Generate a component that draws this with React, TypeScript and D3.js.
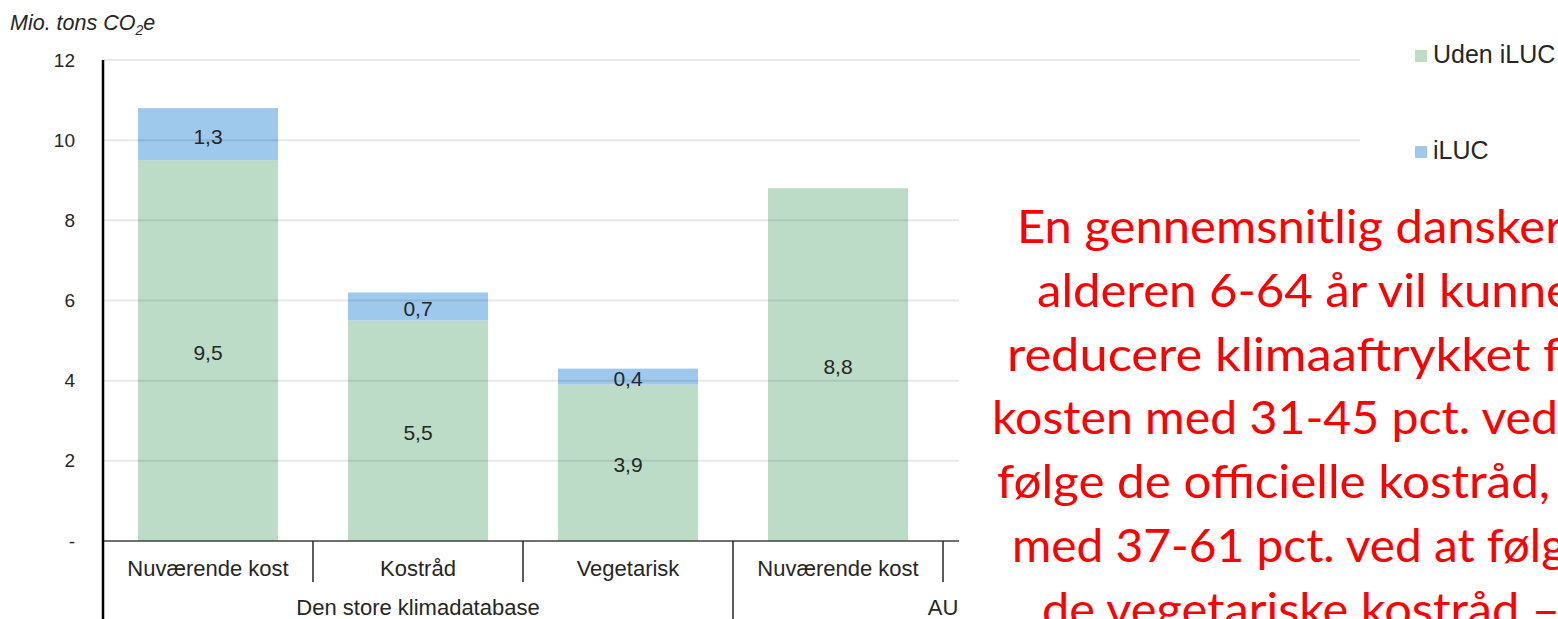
import * as d3 from "d3";

const categories = ["Nuværende kost", "Kostråd", "Vegetarisk", "Nuværende kost "];
const udenIluc = [9.5, 5.5, 3.9, 8.8];
const iluc = [1.3, 0.7, 0.4, 0];
const seriesNames = ["Uden iLUC", "iLUC"];
const seriesValues = [udenIluc, iluc];
const yTicks = [0, 2, 4, 6, 8, 10, 12];
const groups = [
  { label: "Den store klimadatabase", from: 0, span: 3 },
  { label: "AU", from: 3, span: 2 },
];
const noteLines = [
  "En gennemsnitlig dansker",
  "alderen 6-64 år vil kunne",
  "reducere klimaaftrykket fra",
  "kosten med 31-45 pct. ved",
  "følge de officielle kostråd,",
  "med 37-61 pct. ved at følg",
  "de vegetariske kostråd –",
];

const W = 1558;
const H = 619;
const COLORS = ["#bcdcc8", "#9ec8ec"];
const FONT = "'Liberation Sans', Arial, sans-serif";
const fmt = (v: number) => String(v).replace(".", ",");

// note layout: start x, end x of the (clipped) line
const noteX = [
  [1017, 1563],
  [1037, 1572],
  [1007, 1604],
  [992, 1558],
  [997, 1550],
  [1012, 1566],
  [1042, 1560],
];

export default function App() {
  const x = d3
    .scaleBand<string>()
    .domain(categories)
    .range([103, 943])
    .paddingInner(1 / 3)
    .paddingOuter(1 / 6);
  const y = d3.scaleLinear().domain([0, 12]).range([541, 60]);

  const rows = categories.map((c, i) => ({ cat: c, "Uden iLUC": udenIluc[i], iLUC: iluc[i] }));
  const stacked = d3.stack<any>().keys(seriesNames)(rows);

  const gap = (x.step() - x.bandwidth()) / 2;
  const left = (c: string) => (x(c) ?? 0) - gap;

  return (
    <svg
      width={W}
      height={H}
      style={{ position: "absolute", left: 0, top: 0, display: "block", background: "#fff" }}
      fontFamily={FONT}
    >
      {/* y title */}
      <text x={10} y={30} fontSize={21.5} fontStyle="italic" fill="#262626">
        Mio. tons CO
        <tspan fontSize={14} dy={5}>
          2
        </tspan>
        <tspan dy={-5}>e</tspan>
      </text>

      {/* bars */}
      {stacked.map((s, si) =>
        s.map((d, i) =>
          d[1] - d[0] > 0 ? (
            <rect
              key={`${si}-${i}`}
              x={x(categories[i])}
              width={x.bandwidth()}
              y={y(d[1])}
              height={y(d[0]) - y(d[1])}
              fill={COLORS[si]}
            />
          ) : null
        )
      )}

      {/* gridlines */}
      {yTicks
        .filter((t) => t > 0)
        .map((t) => (
          <line
            key={t}
            x1={104}
            x2={1360}
            y1={y(t)}
            y2={y(t)}
            stroke="#000"
            strokeOpacity={0.09}
            strokeWidth={2}
          />
        ))}

      {/* data labels */}
      {stacked.map((s, si) =>
        s.map((d, i) =>
          seriesValues[si][i] > 0 ? (
            <text
              key={`l${si}-${i}`}
              x={(x(categories[i]) ?? 0) + x.bandwidth() / 2}
              y={y((d[0] + d[1]) / 2) + 2}
              dy="0.35em"
              textAnchor="middle"
              fontSize={21}
              fill="#262626"
            >
              {fmt(seriesValues[si][i])}
            </text>
          ) : null
        )
      )}

      {/* y tick labels */}
      {yTicks.map((t) => (
        <text key={t} x={75} y={y(t)} dy="0.35em" textAnchor="end" fontSize={19} fill="#262626">
          {t === 0 ? "-" : t}
        </text>
      ))}

      {/* axes */}
      <line x1={103} x2={1000} y1={y(0)} y2={y(0)} stroke="#404040" strokeWidth={1.5} />
      {categories.map((c, i) => (
        <line
          key={`sep${i}`}
          x1={left(c) + x.step()}
          x2={left(c) + x.step()}
          y1={y(0)}
          y2={groups.some((g) => g.from === i + 1) ? H : 582}
          stroke="#262626"
          strokeWidth={1.5}
        />
      ))}
      <line x1={103} x2={103} y1={y(12)} y2={H} stroke="#000" strokeWidth={2.5} />

      {/* category labels */}
      {categories.map((c) => (
        <text
          key={`c${c}`}
          x={(x(c) ?? 0) + x.bandwidth() / 2}
          y={576}
          textAnchor="middle"
          fontSize={22}
          fill="#262626"
        >
          {c.trim()}
        </text>
      ))}
      {groups.map((g) => {
        const x0 = left(categories[g.from]);
        return (
          <text
            key={g.label}
            x={x0 + (g.span * x.step()) / 2}
            y={615}
            textAnchor="middle"
            fontSize={22}
            fill="#262626"
          >
            {g.label}
          </text>
        );
      })}

      {/* legend */}
      {seriesNames.map((n, i) => (
        <g key={n} transform={`translate(1415, ${50 + i * 96})`}>
          <rect width={12} height={12} fill={COLORS[i]} />
          <text x={18} y={13} fontSize={25} fill="#262626">
            {n}
          </text>
        </g>
      ))}

      {/* text box covering right part */}
      <rect x={959} y={180} width={W - 959} height={H - 180} fill="#fff" />
      {noteLines.map((l, i) => (
        <text
          key={i}
          x={noteX[i][0]}
          y={243 + i * 63.8}
          fontSize={47}
          fontFamily="Lato, 'Open Sans', sans-serif"
          fill="#ff0000"
          textLength={noteX[i][1] - noteX[i][0]}
          lengthAdjust="spacingAndGlyphs"
        >
          {l}
        </text>
      ))}
    </svg>
  );
}
